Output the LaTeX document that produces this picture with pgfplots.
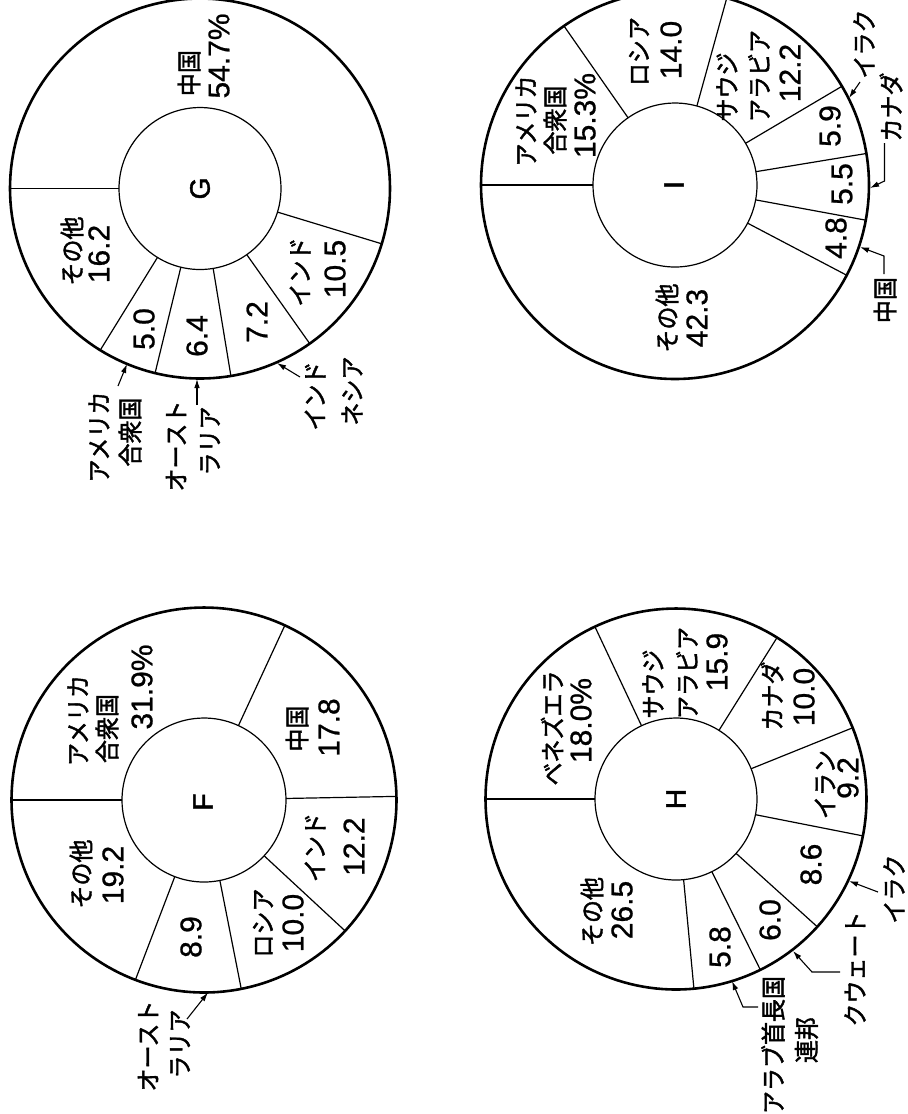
\documentclass[border=0pt]{standalone}
\usepackage{fontspec}
\usepackage{pgfplots}
\pgfplotsset{compat=1.18}
\usetikzlibrary{arrows.meta}
\setmainfont{Liberation Sans}
\newfontfamily\jpf{Noto Sans CJK JP}[FakeStretch=0.92, FakeBold=1.6]
\newfontfamily\numf{Liberation Sans}[FakeBold=0.8]
\newfontfamily\ltf{Liberation Sans}[FakeBold=1.6]
\newcommand\jp{\jpf\fontsize{12.5}{14}\selectfont}
\newcommand\nm{\numf\fontsize{15}{17}\selectfont}
\newcommand\lt{\ltf\fontsize{14}{16}\selectfont}
\tikzset{
  J/.style={rotate=90, inner sep=0pt, font=\jp},
  N/.style={rotate=90, inner sep=0pt, font=\nm},
  L/.style={rotate=90, inner sep=0pt, font=\lt},
  arr/.style={-{Latex[length=4.5pt,width=2.8pt]}, line width=0.55pt},
}
% #1 cx, #2 cy (pixels, y downward), #3 outer radius, #4 inner radius, #5 shares (%) clockwise from 12 o'clock of the upright chart
\newcommand\donut[5]{%
  \addplot[line width=1.3pt, domain=0:362, samples=182, variable=\t] ({#1+#3*cos(\t)},{#2+#3*sin(\t)});
  \addplot[line width=0.6pt, domain=0:362, samples=122, variable=\t] ({#1+#4*cos(\t)},{#2+#4*sin(\t)});
  \def\cum{0}%
  \pgfplotsforeachungrouped \p in {#5}{%
    \pgfmathsetmacro\ang{180-3.6*\cum}%
    \pgfmathsetmacro\xa{#1+#4*cos(\ang)}%
    \pgfmathsetmacro\ya{#2-#4*sin(\ang)}%
    \pgfmathsetmacro\xb{#1+#3*cos(\ang)}%
    \pgfmathsetmacro\yb{#2-#3*sin(\ang)}%
    \edef\tmp{\noexpand\addplot[line width=0.6pt] coordinates {(\xa,\ya) (\xb,\yb)};}%
    \tmp
    \pgfmathsetmacro\cum{\cum+\p}%
  }%
}
\begin{document}
\begin{tikzpicture}
\fill[white] (0,0) rectangle (454pt,-557pt);
\path[use as bounding box] (0,0) rectangle (454pt,-557pt);
\begin{axis}[at={(0,0)}, anchor=north west, x=0.5pt, y=0.5pt,
  xmin=0, xmax=908, ymin=0, ymax=1114, y dir=reverse,
  hide axis, clip=false, no markers]
% ---------- G ----------
\donut{200}{188.5}{190}{81}{54.7,10.5,7.2,6.4,5.0,16.2}
\node[J] at (axis cs:189,73) {中国};
\node[N] at (axis cs:219,56) {54.7\%};
\node[L] at (axis cs:200,188.5) {G};
\node[J] at (axis cs:72,251) {その他};
\node[N] at (axis cs:99,254) {16.2};
\node[N] at (axis cs:144,329) {5.0};
\node[N] at (axis cs:197,336) {6.4};
\node[N] at (axis cs:257,322) {7.2};
\node[J] at (axis cs:300,272) {インド};
\node[N] at (axis cs:335,269) {10.5};
\node[J] at (axis cs:99,437) {アメリカ};
\node[J] at (axis cs:130,432) {合衆国};
\node[J] at (axis cs:176,446) {オースト};
\node[J] at (axis cs:210,441) {ラリア};
\node[J] at (axis cs:315,396) {インド};
\node[J] at (axis cs:352,391) {ネシア};
\draw[arr] (axis cs:118,386) -- (axis cs:127,364);
\draw[arr] (axis cs:197,405) -- (axis cs:197,379);
\draw[arr] (axis cs:300,377) -- (axis cs:277,363);
% ---------- I ----------
\donut{675}{185}{194}{82}{15.3,14.0,12.2,5.9,5.5,4.8,42.3}
\node[J] at (axis cs:526,121) {アメリカ};
\node[J] at (axis cs:555,120) {合衆国};
\node[N] at (axis cs:585,115.5) {15.3\%};
\node[J] at (axis cs:639,51.5) {ロシア};
\node[N] at (axis cs:671,50) {14.0};
\node[J] at (axis cs:727,87) {サウジ};
\node[J] at (axis cs:759,76) {アラビア};
\node[N] at (axis cs:790,73) {12.2};
\node[L] at (axis cs:674,185) {I};
\node[N] at (axis cs:830,126) {5.9};
\node[N] at (axis cs:842,184) {5.5};
\node[N] at (axis cs:836,238) {4.8};
\node[J] at (axis cs:667,318) {その他};
\node[N] at (axis cs:697,318) {42.3};
\node[J] at (axis cs:864,44) {イラク};
\node[J] at (axis cs:891,107) {カナダ};
\node[J] at (axis cs:885,300) {中国};
\draw[arr] (axis cs:860,82) -- (axis cs:849,98);
\draw[arr] (axis cs:884.5,143) -- (axis cs:884.5,181) -- (axis cs:870,188);
\draw[arr] (axis cs:884,274) -- (axis cs:884,256) -- (axis cs:860,247);
% ---------- F ----------
\donut{204}{800}{192.5}{82}{31.9,17.8,12.2,10.0,8.9,19.2}
\node[J] at (axis cs:78,720.5) {アメリカ};
\node[J] at (axis cs:107,728.5) {合衆国};
\node[N] at (axis cs:142,687) {31.9\%};
\node[J] at (axis cs:297,728.5) {中国};
\node[N] at (axis cs:329,727.5) {17.8};
\node[L] at (axis cs:203,802) {F};
\node[J] at (axis cs:315,847.5) {インド};
\node[N] at (axis cs:354,846.6) {12.2};
\node[J] at (axis cs:263,923) {ロシア};
\node[N] at (axis cs:293,923) {10.0};
\node[N] at (axis cs:191,937) {8.9};
\node[J] at (axis cs:81,874) {その他};
\node[N] at (axis cs:113,875) {19.2};
\node[J] at (axis cs:148,1046) {オースト};
\node[J] at (axis cs:180,1044) {ラリア};
\draw[arr] (axis cs:187,1019) -- (axis cs:208,992.5);
% ---------- H ----------
\donut{676}{799}{190.5}{81}{18.0,15.9,10.0,9.2,8.6,6.0,5.8,26.5}
\node[J] at (axis cs:552,728) {ベネズエラ};
\node[N] at (axis cs:581,720.5) {18.0\%};
\node[J] at (axis cs:653,684) {サウジ};
\node[J] at (axis cs:687,673) {アラビア};
\node[N] at (axis cs:717,662) {15.9};
\node[J] at (axis cs:772,696) {カナダ};
\node[N] at (axis cs:804,697) {10.0};
\node[J] at (axis cs:825,784.5) {イラン};
\node[N] at (axis cs:848,778) {9.2};
\node[N] at (axis cs:811,864.5) {8.6};
\node[N] at (axis cs:770,920) {6.0};
\node[N] at (axis cs:720,947) {5.8};
\node[J] at (axis cs:592,911.5) {その他};
\node[N] at (axis cs:622,910) {26.5};
\node[L] at (axis cs:676,799) {H};
\node[J] at (axis cs:894,889) {イラク};
\node[J] at (axis cs:855,969) {クウェート};
\node[J] at (axis cs:773,1045) {アラブ首長国};
\node[J] at (axis cs:806.5,1040) {連邦};
\draw[arr] (axis cs:878,892) -- (axis cs:849,881);
\draw[arr] (axis cs:840,972) -- (axis cs:812,972) -- (axis cs:793,951);
\draw[arr] (axis cs:758,1007) -- (axis cs:743,1007) -- (axis cs:732,981);
\end{axis}
\end{tikzpicture}
\end{document}
